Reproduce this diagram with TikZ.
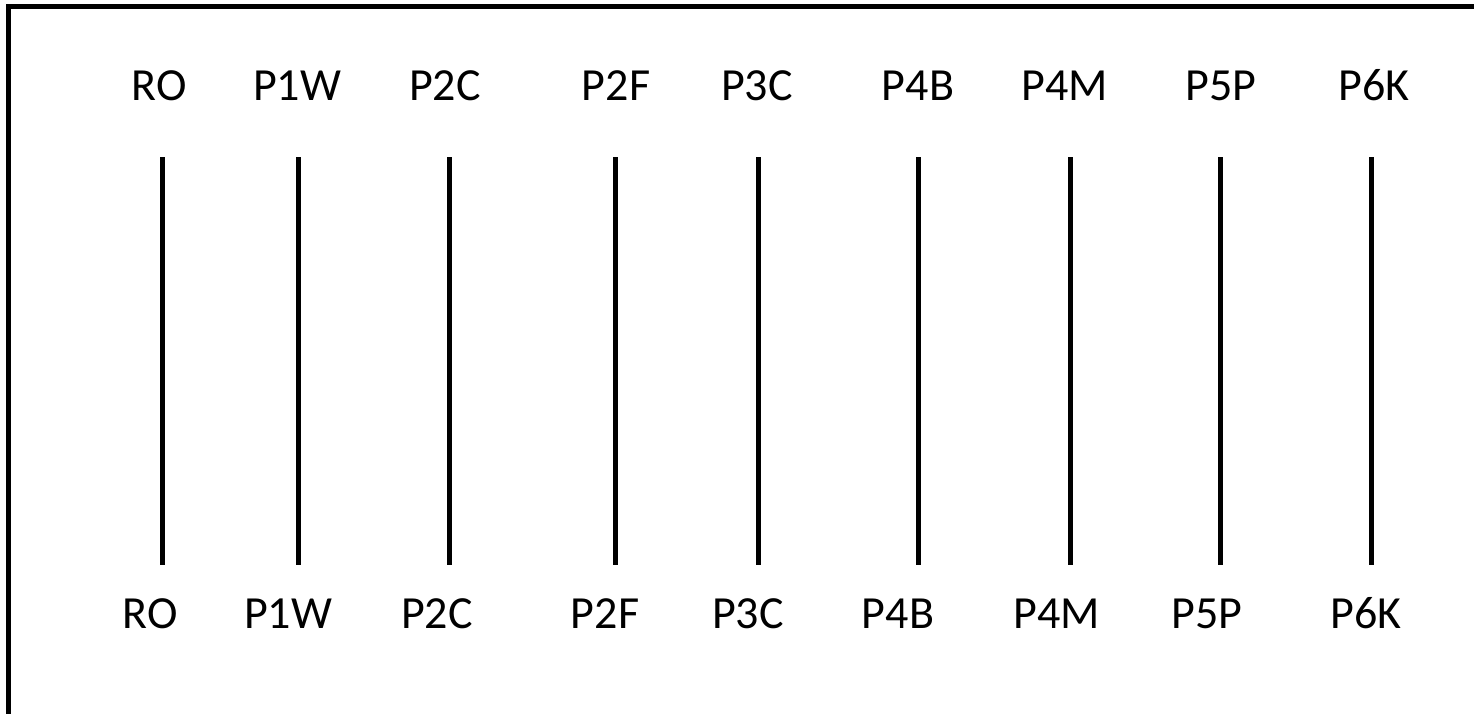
\documentclass[tikz,border=0pt]{standalone}
\usepackage{fontspec}
\setmainfont{Carlito}
\begin{document}
\begin{tikzpicture}[x=1pt,y=-1pt,
  lbl/.style={anchor=base,inner sep=0pt,font=\fontsize{46}{50}\selectfont},
  bar/.style={line width=5pt},
  frame/.style={line width=5pt}]
\useasboundingbox (0,0) rectangle (1474,713);
\clip (0,0) rectangle (1474,713);
\draw[frame] (8,6) rectangle (1500,740);
% top labels
\foreach \n/\t/\x in {a/RO/159,b/P1W/297,c/P2C/445,d/P2F/616,e/P3C/757,f/P4B/918,g/P4M/1065,h/P5P/1221,i/P6K/1374}{
  \node[lbl] (top\n) at (\x,100) {\t};
}
% bottom labels
\foreach \n/\t/\x in {a/RO/150,b/P1W/288,c/P2C/437,d/P2F/605,e/P3C/748,f/P4B/898,g/P4M/1057,h/P5P/1207,i/P6K/1366}{
  \node[lbl] (bot\n) at (\x,628) {\t};
}
% bars
\foreach \n/\x in {a/162,b/298,c/449,d/615,e/758,f/918,g/1070,h/1220,i/1371}{
  \coordinate (s\n) at (\x,157);
  \coordinate (e\n) at (\x,565);
  \draw[bar] (s\n) -- (e\n);
}
\end{tikzpicture}
\end{document}
